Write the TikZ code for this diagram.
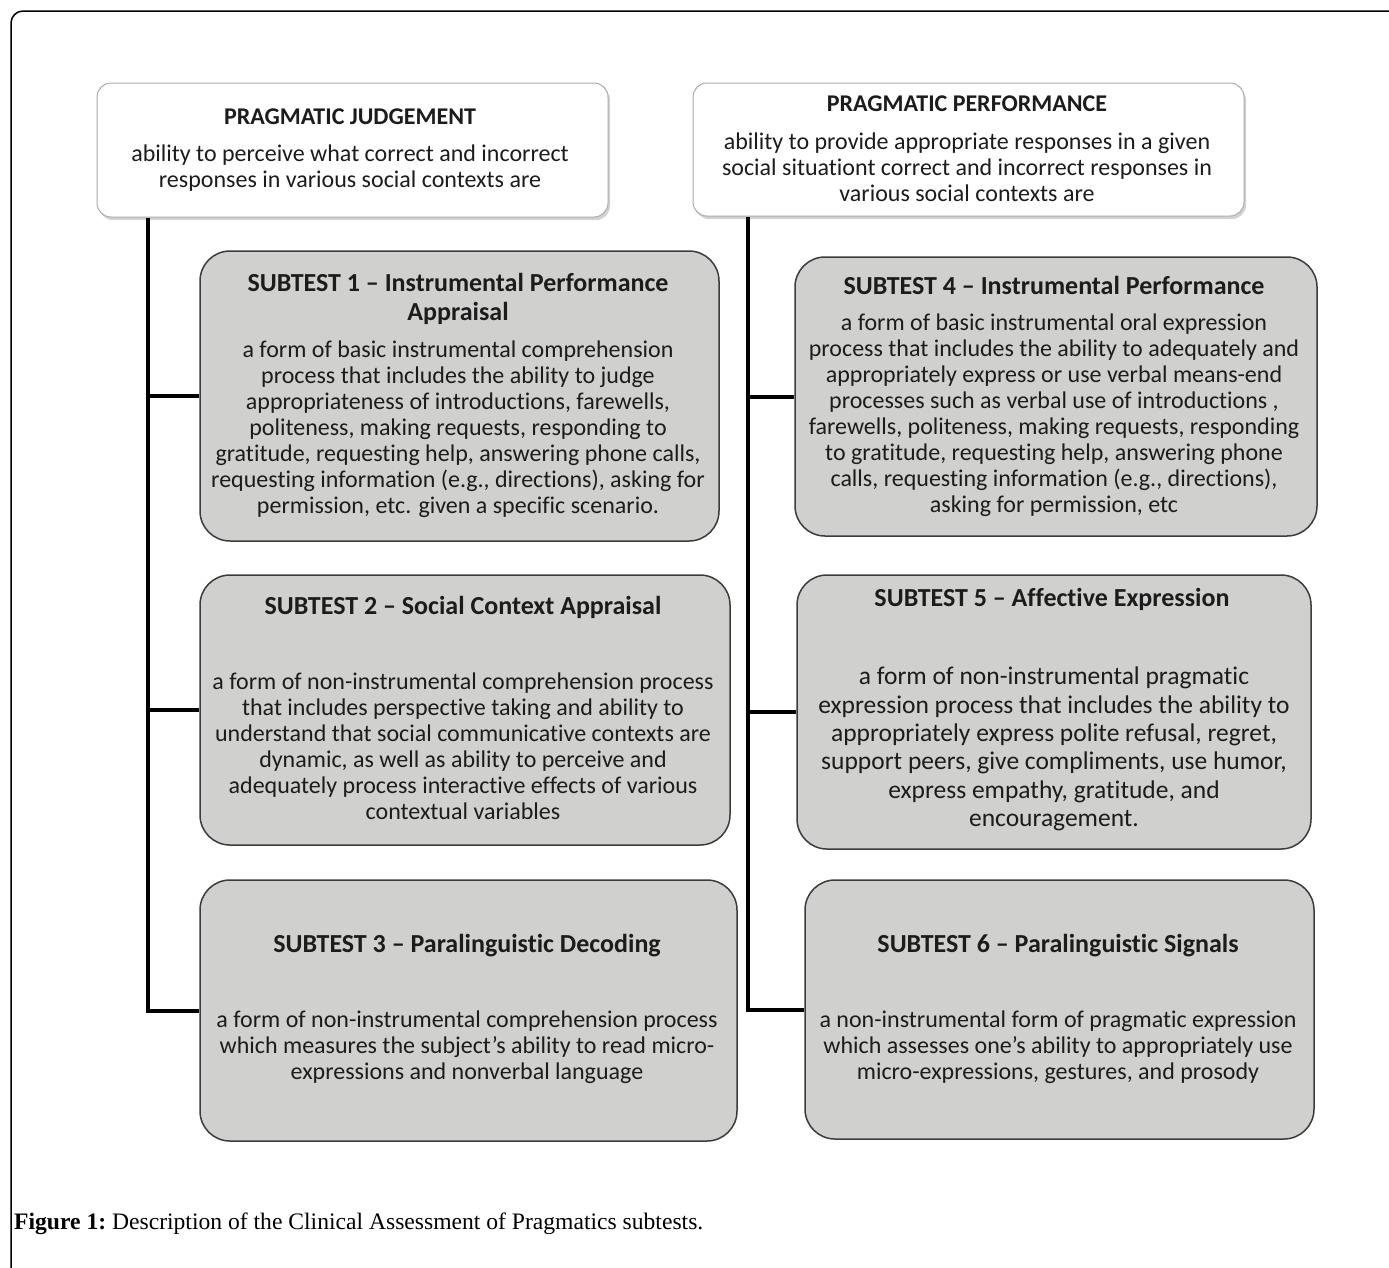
\documentclass[tikz,border=0pt]{standalone}
\usepackage{fontspec}
\setmainfont{Carlito}[Ligatures={TeX, NoCommon}]
\newfontfamily\captionfont{Liberation Serif}
\usetikzlibrary{shadows}
\definecolor{boxgrey}{RGB}{208, 208, 206}
\definecolor{edgegrey}{RGB}{60, 60, 60}
\definecolor{textgrey}{RGB}{28, 28, 28}
\tikzset{%
    topbox/.style={%
        draw=gray!65, fill=white, line width=1pt, rounded corners=14pt,
        inner sep=0pt,
        drop shadow={shadow xshift=2pt, shadow yshift=-3pt, opacity=0.35}
    },
    subbox/.style={%
        draw=edgegrey, fill=boxgrey, line width=1.5pt, rounded corners=30pt,
        inner sep=0pt
    },
    headtext/.style={%
        font=\fontsize{26}{29}\selectfont\bfseries, align=center,
        text=textgrey, inner sep=0pt
    },
    toptext/.style={%
        font=\fontsize{24}{26}\selectfont\bfseries, align=center,
        text=textgrey, inner sep=0pt
    },
    bodytext/.style={%
        font=\fontsize{24}{26}\selectfont, align=center,
        text=textgrey, inner sep=0pt
    },
    link/.style={line width=4pt, black}
}

\begin{document}
\begin{tikzpicture}[x=1pt, y=-1pt]

    \clip (0, 0) rectangle (1389, 1267);
    \fill[white] (0, 0) rectangle (1389, 1267);

    % Frame
    \draw[line width=1.5pt, rounded corners=12pt] (11, 11) rectangle (1420, 1300);

    % Top boxes
    \node[topbox, minimum width=511pt, minimum height=134pt] (judge) at (352.5, 150) {};
    \node[toptext] (judgehead) at (350, 117) {PRAGMATIC JUDGEMENT};
    \node[bodytext] (judgebody) at (350, 168)
        {ability to perceive what correct and incorrect\\
         responses in various social contexts are};

    \node[topbox, minimum width=551pt, minimum height=133pt] (perform) at (968.5, 149.5) {};
    \node[toptext] (performhead) at (967, 104) {PRAGMATIC PERFORMANCE};
    \node[bodytext] (performbody) at (967, 167)
        {ability to provide appropriate responses in a given\\
         social situationt correct and incorrect responses in\\
         various social contexts are};

    % Left column
    \node[subbox, minimum width=519pt, minimum height=290pt] (sub1) at (459.5, 396) {};
    \node[headtext] (sub1head) at (458, 298.5)
        {SUBTEST 1 – Instrumental Performance\\Appraisal};
    \node[bodytext] (sub1body) at (458, 429)
        {a form of basic instrumental comprehension\\
         process that includes the ability to judge\\
         appropriateness of introductions, farewells,\\
         politeness, making requests, responding to\\
         gratitude, requesting help, answering phone calls,\\
         requesting information (e.g., directions), asking for\\
         permission, etc. given a specific scenario.};

    \node[subbox, minimum width=530pt, minimum height=270pt] (sub2) at (465, 710) {};
    \node[headtext] (sub2head) at (463, 607) {SUBTEST 2 – Social Context Appraisal};
    \node[bodytext] (sub2body) at (463, 746.5)
        {a form of non-instrumental comprehension process\\
         that includes perspective taking and ability to\\
         understand that social communicative contexts are\\
         dynamic, as well as ability to perceive and\\
         adequately process interactive effects of various\\
         contextual variables};

    \node[subbox, minimum width=537pt, minimum height=261pt] (sub3) at (468.5, 1010.5) {};
    \node[headtext] (sub3head) at (467, 946) {SUBTEST 3 – Paralinguistic Decoding};
    \node[bodytext] (sub3body) at (467, 1047)
        {a form of non-instrumental comprehension process\\
         which measures the subject’s ability to read micro-\\
         expressions and nonverbal language};

    % Right column
    \node[subbox, minimum width=522pt, minimum height=279pt] (sub4) at (1056, 396.5) {};
    \node[headtext] (sub4head) at (1054, 285) {SUBTEST 4 – Instrumental Performance};
    \node[bodytext] (sub4body) at (1054, 415)
        {a form of basic instrumental oral expression\\
         process that includes the ability to adequately and\\
         appropriately express or use verbal means-end\\
         processes such as verbal use of introductions ,\\
         farewells, politeness, making requests, responding\\
         to gratitude, requesting help, answering phone\\
         calls, requesting information (e.g., directions),\\
         asking for permission, etc};

    \node[subbox, minimum width=514pt, minimum height=274pt] (sub5) at (1054, 712) {};
    \node[headtext] (sub5head) at (1052, 599) {SUBTEST 5 – Affective Expression};
    \node[bodytext, font=\fontsize{25.5}{28.4}\selectfont] (sub5body) at (1054, 749)
        {a form of non-instrumental pragmatic\\
         expression process that includes the ability to\\
         appropriately express polite refusal, regret,\\
         support peers, give compliments, use humor,\\
         express empathy, gratitude, and\\
         encouragement.};

    \node[subbox, minimum width=509pt, minimum height=259pt] (sub6) at (1059.5, 1009.5) {};
    \node[headtext] (sub6head) at (1058, 946) {SUBTEST 6 – Paralinguistic Signals};
    \node[bodytext] (sub6body) at (1058, 1047)
        {a non-instrumental form of pragmatic expression\\
         which assesses one’s ability to appropriately use\\
         micro-expressions, gestures, and prosody};

    % Connectors
    \coordinate (trunkleft) at (148, 0);
    \coordinate (trunkright) at (748, 0);

    \draw[link] (judge.south -| trunkleft) |- (sub3.west);
    \draw[link] (sub1.west -| trunkleft) -- (sub1.west);
    \draw[link] (sub2.west -| trunkleft) -- (sub2.west);

    \draw[link] (perform.south -| trunkright) |- (sub6.west);
    \draw[link] (sub4.west -| trunkright) -- (sub4.west);
    \draw[link] (sub5.west -| trunkright) -- (sub5.west);

    % Caption
    \node[anchor=base west, inner sep=0pt, font=\captionfont\fontsize{23.6}{28}\selectfont] (caption)
        at (14, 1229) {\textbf{Figure 1:}\ Description of the Clinical Assessment of Pragmatics subtests.};

\end{tikzpicture}
\end{document}
